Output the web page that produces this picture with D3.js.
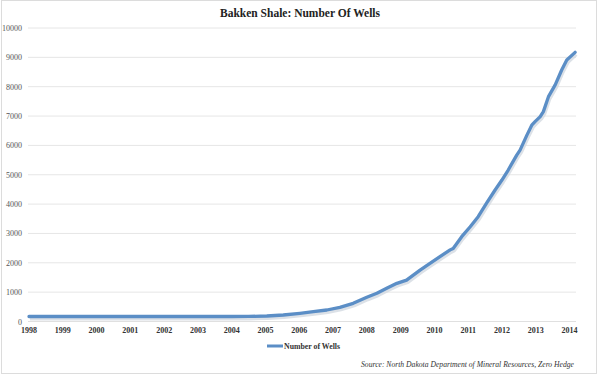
<!DOCTYPE html>
<html><head><meta charset="utf-8">
<script src="https://cdn.jsdelivr.net/npm/d3@7"></script>
<style>body{margin:0;background:#fff}svg{display:block}</style>
</head><body><svg id="c" width="600" height="375"></svg>
<script>
const title = "Bakken Shale: Number Of Wells";
const seriesName = "Number of Wells";
const source = "Source: North Dakota Department of Mineral Resources,  Zero Hedge";
const yTicks = [0,1000,2000,3000,4000,5000,6000,7000,8000,9000,10000];
const xTickYears = [1998,1999,2000,2001,2002,2003,2004,2005,2006,2007,2008,2009,2010,2011,2012,2013,2014];
const dates = ["1998-01-01","1999-06-01","2001-01-01","2002-06-01","2004-01-01","2004-07-01","2005-01-15","2005-07-12","2006-01-08","2006-06-02","2006-10-26","2007-03-16","2007-08-07","2008-01-01","2008-04-19","2008-08-03","2008-11-21","2009-03-06","2009-07-30","2009-11-14","2010-03-02","2010-06-20","2010-07-23","2010-10-23","2011-01-23","2011-04-19","2011-07-19","2011-10-19","2012-01-01","2012-03-09","2012-06-09","2012-07-15","2012-09-27","2012-11-21","2012-12-24","2013-02-18","2013-03-24","2013-05-18","2013-07-30","2013-10-08","2013-12-02","2014-03-02"];
const wells = [170,170,170,170,170,172,187,221,280,334,392,484,620,825,960,1130,1300,1410,1750,1980,2210,2440,2490,2890,3230,3570,4030,4480,4820,5160,5670,5840,6350,6700,6810,6980,7150,7660,8060,8570,8910,9170];

const svg = d3.select("#c");
const parse = d3.timeParse("%Y-%m-%d");
const data = dates.map((d,i)=>({date:parse(d), v:wells[i]}));
const x = d3.scaleTime().domain([new Date(1998,0,1), new Date(2014,2,1)]).range([29,575]);
const y = d3.scaleLinear().domain([0,10000]).range([321.5,28]);

svg.append("rect").attr("x",1.5).attr("y",0.5).attr("width",595).attr("height",373).attr("fill","#fff").attr("stroke","#dcdcdc");

svg.append("g").selectAll("line").data(yTicks).join("line")
  .attr("x1",28).attr("x2",576).attr("y1",d=>y(d)).attr("y2",d=>y(d))
  .attr("stroke",d=>d===0?"#e0e0e0":"#e6e6e6").attr("stroke-width",1);

svg.append("g").selectAll("text").data(yTicks).join("text")
  .attr("x",22).attr("y",d=>y(d)+3).attr("text-anchor","end")
  .attr("font-family","Liberation Serif, serif").attr("font-size",8).attr("fill","#555")
  .text(d=>d);

svg.append("g").selectAll("text").data(xTickYears).join("text")
  .attr("x",d=>x(new Date(d,0,1))).attr("y",333).attr("text-anchor","middle")
  .attr("font-family","Liberation Serif, serif").attr("font-size",8).attr("font-weight","bold").attr("fill","#333")
  .text(d=>d);

const line = d3.line().x(d=>x(d.date)).y(d=>y(d.v));
svg.append("path").datum(data).attr("d",line).attr("fill","none")
  .attr("stroke","#d3d9e1").attr("stroke-width",4).attr("transform","translate(1,2)").attr("stroke-linejoin","round").attr("opacity",0.8);
svg.append("path").datum(data).attr("d",line).attr("fill","none")
  .attr("stroke","#5b8ec6").attr("stroke-width",3.3).attr("stroke-linejoin","round").attr("stroke-linecap","round");

svg.append("line").attr("x1",267).attr("x2",283).attr("y1",346).attr("y2",346).attr("stroke","#5b8ec6").attr("stroke-width",3);
svg.append("text").attr("x",284).attr("y",348.5).attr("font-family","Liberation Serif, serif").attr("font-size",8).attr("font-weight","bold").attr("fill","#333")
  .attr("textLength",56).attr("lengthAdjust","spacingAndGlyphs").text(seriesName);

svg.append("text").attr("x",300).attr("y",17).attr("text-anchor","middle").attr("font-family","Liberation Serif, serif").attr("font-size",12.5).attr("font-weight","bold").attr("fill","#222")
  .attr("textLength",160).attr("lengthAdjust","spacingAndGlyphs").text(title);

svg.append("text").attr("x",361).attr("y",367).attr("font-family","Liberation Serif, serif").attr("font-size",8.5).attr("font-style","italic").attr("fill","#333")
  .attr("textLength",213).attr("lengthAdjust","spacingAndGlyphs").text(source);
</script></body></html>
